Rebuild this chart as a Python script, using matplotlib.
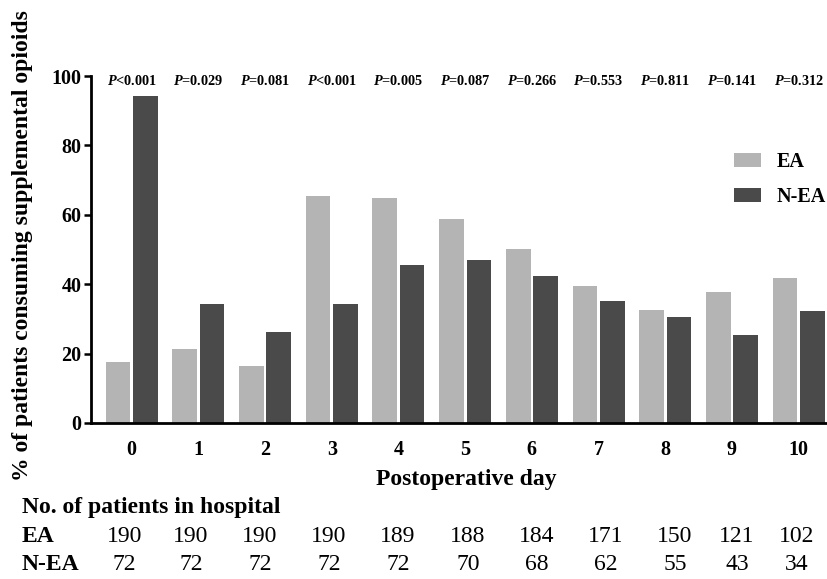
import matplotlib
matplotlib.use("Agg")
import matplotlib.pyplot as plt
from matplotlib.patches import Patch

plt.rcParams['font.family'] = ['Liberation Serif', 'DejaVu Serif']
plt.rcParams['mathtext.fontset'] = 'custom'
plt.rcParams['mathtext.it'] = 'Liberation Serif:italic:bold'
plt.rcParams['mathtext.rm'] = 'Liberation Serif:bold'
plt.rcParams['mathtext.bf'] = 'Liberation Serif:bold'

days = [0, 1, 2, 3, 4, 5, 6, 7, 8, 9, 10]
ea_pct = [17.5, 21.3, 16.5, 65.5, 64.8, 58.7, 50.1, 39.4, 32.5, 37.7, 41.9]
nea_pct = [94.2, 34.4, 26.1, 34.4, 45.5, 46.9, 42.3, 35.2, 30.5, 25.3, 32.2]
p_values = ['<0.001', '=0.029', '=0.081', '<0.001', '=0.005', '=0.087',
            '=0.266', '=0.553', '=0.811', '=0.141', '=0.312']
ea_n = [190, 190, 190, 190, 189, 188, 184, 171, 150, 121, 102]
nea_n = [72, 72, 72, 72, 72, 70, 68, 62, 55, 43, 34]
yticks = [0, 20, 40, 60, 80, 100]

# layout: pixel x-centres of the patient-count columns (typed table under the chart)
table_col_px = [124.5, 191, 260, 329, 398, 468, 537, 606, 675, 737, 797]

EA_COLOR = '#b4b4b4'
NEA_COLOR = '#4a4a4a'

W, H = 828, 579
fig = plt.figure(figsize=(W / 100, H / 100), dpi=100)
ax = fig.add_axes([91 / W, 1 - 423 / H, (828 - 91) / W, (423 - 76) / H])

off = 0.205
bw = 0.37
ax.bar([d - off for d in days], ea_pct, width=bw, color=EA_COLOR, label='EA')
ax.bar([d + off for d in days], nea_pct, width=bw, color=NEA_COLOR, label='N-EA')

ax.set_xlim(-0.61, 10.44)
ax.set_ylim(0, 100)
ax.set_yticks(yticks)
ax.set_yticklabels([str(v) for v in yticks], fontsize=14.5, fontweight='bold')
ax.set_xticks(days)
ax.set_xticklabels([str(d) for d in days], fontsize=14.5, fontweight='bold')
ax.tick_params(axis='x', length=0, pad=12)
ax.tick_params(axis='y', length=5, width=1.8, direction='out', pad=2)
for s in ['top', 'right']:
    ax.spines[s].set_visible(False)
for s in ['left', 'bottom']:
    ax.spines[s].set_linewidth(2)

for d, p in zip(days, p_values):
    ax.text(d, 98.6, r'$\mathit{P}$' + p, ha='center', va='center',
            fontsize=10.3, fontweight='bold', clip_on=False)

handles = [Patch(facecolor=EA_COLOR, label='EA'), Patch(facecolor=NEA_COLOR, label='N-EA')]
leg = ax.legend(handles=handles, loc='upper left', bbox_to_anchor=(734 / W, 1 - 152 / H),
                bbox_transform=fig.transFigure, frameon=False, borderpad=0, borderaxespad=0,
                handlelength=1.35, handleheight=0.65, handletextpad=0.75,
                labelspacing=0.75, prop={'family': 'Liberation Serif', 'weight': 'bold', 'size': 14.5})

fig.text(23 / W, 1 - 246 / H, '% of patients consuming supplemental opioids', rotation=90,
         ha='center', va='center', fontsize=17, fontweight='bold')
fig.text(466.5 / W, 1 - 479 / H, 'Postoperative day', ha='center', va='center',
         fontsize=17, fontweight='bold')

fig.text(22 / W, 1 - 508 / H, 'No. of patients in hospital', ha='left', va='center',
         fontsize=17, fontweight='bold')
fig.text(22 / W, 1 - 537 / H, 'EA', ha='left', va='center', fontsize=17, fontweight='bold')
fig.text(22 / W, 1 - 565 / H, 'N-EA', ha='left', va='center', fontsize=17, fontweight='bold')

for xp, a, b in zip(table_col_px, ea_n, nea_n):
    fig.text(xp / W, 1 - 537 / H, str(a), ha='center', va='center', fontsize=17)
    fig.text(xp / W, 1 - 565 / H, str(b), ha='center', va='center', fontsize=17)

fig.savefig('out.png', dpi=100)
